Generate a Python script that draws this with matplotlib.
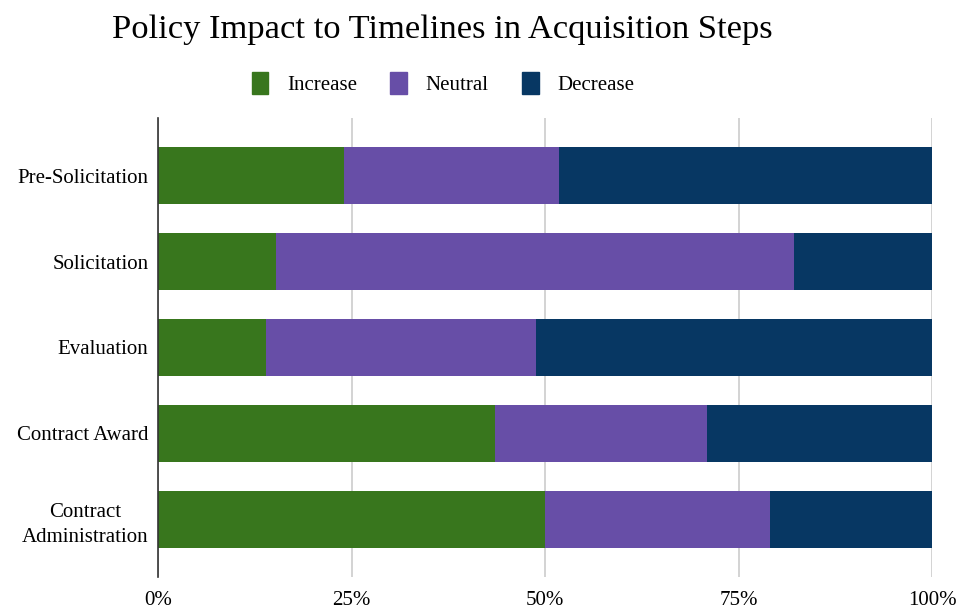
import matplotlib.pyplot as plt
from matplotlib.patches import Patch
from matplotlib.ticker import PercentFormatter

plt.rcParams['font.family'] = ['Liberation Serif', 'DejaVu Serif']

# Données (en %)
etapes = ["Pre-Solicitation", "Solicitation", "Evaluation", "Contract Award", "Contract\nAdministration"]
increase = [24.0, 15.2, 14.0, 43.6, 50.0]
neutral = [27.8, 67.0, 34.8, 27.3, 29.1]
decrease = [48.2, 17.8, 51.2, 29.1, 20.9]
series = ["Increase", "Neutral", "Decrease"]
couleurs = ["#38761d", "#674ea7", "#073763"]

fig = plt.figure(figsize=(9.59, 6.12), dpi=100)
ax = fig.add_axes([158 / 959, 1 - 577 / 612, 774 / 959, 459 / 612])

ypos = list(range(len(etapes)))
gauche = [0.0] * len(etapes)
for vals, col in zip([increase, neutral, decrease], couleurs):
    ax.barh(ypos, vals, left=gauche, height=0.66, color=col, zorder=2)
    gauche = [g + v for g, v in zip(gauche, vals)]

ax.set_yticks(ypos)
ax.set_yticklabels(etapes, fontsize=15, multialignment='center', linespacing=1.45)
ax.set_ylim(len(etapes) - 0.33, -0.67)
ax.set_xlim(0, 100)
ax.set_xticks([0, 25, 50, 75, 100])
ax.xaxis.set_major_formatter(PercentFormatter(decimals=0))
ax.tick_params(axis='x', labelsize=15, length=0, pad=10)
ax.tick_params(axis='y', length=0, pad=7)

ax.grid(axis='x', color='#cccccc', linewidth=1.2, zorder=0)
for s in ['top', 'right', 'bottom']:
    ax.spines[s].set_visible(False)
ax.spines['left'].set_color('#333333')
ax.spines['left'].set_linewidth(1.2)
ax.spines['left'].set_zorder(3)

fig.text(0.461, 0.952, "Policy Impact to Timelines in Acquisition Steps", fontsize=24.8,
         ha='center', va='center')

poignees = [Patch(facecolor=c, edgecolor=c) for c in couleurs]
fig.legend(poignees, series, loc='center', bbox_to_anchor=(0.462, 0.864), ncol=3,
           frameon=False, fontsize=15, handlelength=0.8, handleheight=1.3,
           columnspacing=1.6, handletextpad=0.9)

plt.savefig("out.png", dpi=100)
plt.close()
